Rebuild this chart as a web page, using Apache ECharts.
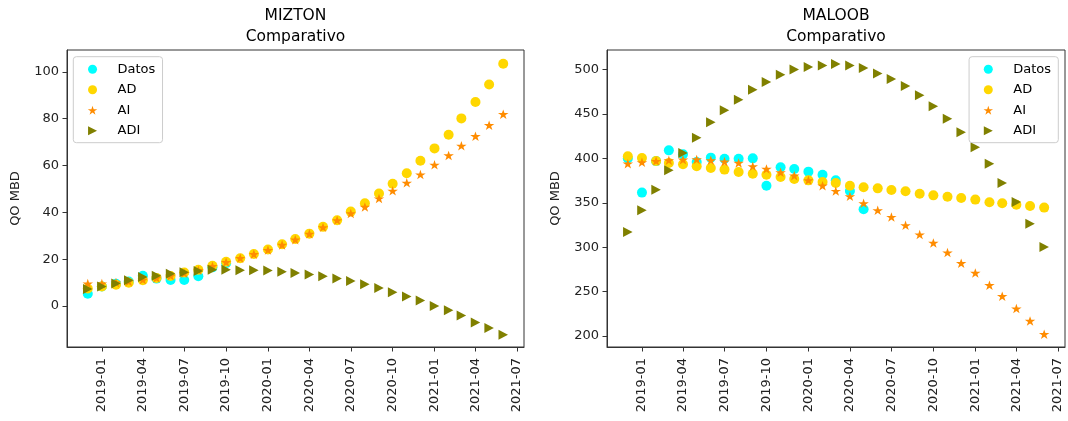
<!DOCTYPE html>
<html><head><meta charset="utf-8">
<script src="https://cdn.jsdelivr.net/npm/echarts@6/dist/echarts.min.js"></script>
<style>html,body{margin:0;padding:0;background:#fff}#c{width:1068px;height:421px}</style>
</head><body><div id="c"></div>
<script>
// ---- data ----
const months = ['2018-12','2019-01','2019-02','2019-03','2019-04','2019-05','2019-06','2019-07','2019-08','2019-09','2019-10','2019-11','2019-12',
  '2020-01','2020-02','2020-03','2020-04','2020-05','2020-06','2020-07','2020-08','2020-09','2020-10','2020-11','2020-12',
  '2021-01','2021-02','2021-03','2021-04','2021-05','2021-06'];

const miztonDatos = [5.2, 8.3, 9.5, 10.5, 12.9, 11.7, 11.1, 11.1, 12.7, 16.5, 18.3];
const miztonAD = [7.5, 8.3, 9.1, 9.9, 11.0, 12.0, 12.8, 14.3, 15.5, 17.2, 18.9, 20.4, 22.2, 24.1, 26.4, 28.6, 30.9, 33.8, 36.6, 40.3, 43.9, 48.0, 52.2, 56.7, 62.0, 67.3, 73.1, 80.1, 87.1, 94.6, 103.4];
const miztonAI = [9.6, 9.6, 10.0, 10.5, 11.2, 12.0, 12.9, 14.0, 15.3, 17.0, 18.7, 20.4, 22.1, 23.9, 26.1, 28.3, 30.8, 33.6, 36.6, 39.5, 42.3, 45.9, 49.2, 52.6, 56.1, 60.3, 64.3, 68.4, 72.5, 77.2, 81.9];
const miztonADI = [7.3, 8.3, 9.6, 11.0, 12.4, 12.9, 13.8, 14.4, 15.0, 15.5, 15.5, 15.3, 15.3, 15.2, 14.6, 14.1, 13.4, 12.7, 11.7, 10.7, 9.3, 7.7, 5.9, 4.1, 2.3, 0.0, -1.8, -4.1, -7.0, -9.4, -12.3];

const maloobDatos = [400.0, 361.5, 397.0, 409.1, 404.6, 396.0, 400.9, 399.6, 399.6, 400.1, 369.3, 390.0, 388.1, 385.1, 381.7, 375.3, 363.3, 342.7];
const maloobAD = [402.4, 400.5, 397.1, 394.9, 393.4, 391.1, 389.2, 387.4, 384.7, 382.8, 381.7, 379.1, 376.8, 375.3, 373.5, 372.3, 369.3, 367.5, 366.3, 364.4, 363.0, 360.3, 358.4, 356.9, 355.4, 353.6, 350.6, 349.4, 347.9, 346.4, 344.6];
const maloobAI = [394.1, 395.6, 397.1, 397.9, 398.6, 398.9, 397.9, 396.4, 394.9, 391.1, 388.1, 384.3, 380.6, 375.3, 369.3, 363.3, 357.3, 349.4, 341.6, 334.0, 324.7, 314.2, 304.8, 293.9, 281.9, 271.0, 257.1, 244.7, 230.8, 216.9, 201.9];
const maloobADI = [317.2, 341.6, 364.8, 386.6, 406.1, 423.4, 440.7, 454.2, 466.2, 477.4, 486.1, 494.3, 500.3, 503.0, 504.8, 506.3, 504.8, 501.8, 495.8, 489.5, 481.6, 471.1, 458.7, 444.8, 429.4, 412.5, 394.1, 372.3, 350.9, 326.5, 300.3];

const xTickLabels = ['2019-01','2019-04','2019-07','2019-10','2020-01','2020-04','2020-07','2020-10','2021-01','2021-04','2021-07'];
const miztonYTicks = [0, 20, 40, 60, 80, 100];
const maloobYTicks = [200, 250, 300, 350, 400, 450, 500];
const titles = ['MIZTON\nComparativo', 'MALOOB\nComparativo'];

// ---- helpers ----
function ts(s) { const p = s.split('-').map(Number); return Date.UTC(p[0], p[1] - 1, 1); }
function pairs(vals) { return vals.map((v, i) => [ts(months[i]), v]); }
const xSpan = ts(months[months.length - 1]) - ts(months[0]);
const xMin = ts(months[0]) - xSpan * 0.05;
const xMax = ts(months[months.length - 1]) + xSpan * 0.05;
const xTickValues = xTickLabels.map(ts);

const STAR = 'path://M50,0L61.22,34.55L97.55,34.55L68.16,55.9L79.39,90.45L50,69.1L20.61,90.45L31.84,55.9L2.45,34.55L38.78,34.55Z';
const TRI = 'path://M0,0L10,5L0,10Z';
const FONT = 'DejaVu Sans';
const colors = { Datos: '#00FFFF', AD: '#FFD700', AI: '#FF8C00', ADI: '#808000' };
const symbols = { Datos: ['circle', 10], AD: ['circle', 10], AI: [STAR, [10.5, 10]], ADI: [TRI, [9.5, 10]] };

function xAxis(gi) {
  return {
    type: 'value', gridIndex: gi, min: xMin, max: xMax,
    splitLine: { show: false },
    axisLine: { show: true, onZero: false, lineStyle: { color: '#333', width: 1 } },
    axisTick: { show: true, length: 4.5, customValues: xTickValues, lineStyle: { color: '#333' } },
    axisLabel: {
      customValues: xTickValues, rotate: 90, margin: 11, fontFamily: FONT, fontSize: 13, color: '#222',
      formatter: function (v) { const i = xTickValues.indexOf(v); return i >= 0 ? xTickLabels[i] : ''; }
    }
  };
}
function yAxis(gi, min, max, ticks) {
  return {
    type: 'value', gridIndex: gi, min: min, max: max,
    name: 'QO MBD', nameLocation: 'middle', nameGap: 45,
    nameTextStyle: { fontFamily: FONT, fontSize: 13, color: '#222' },
    splitLine: { show: false },
    axisLine: { show: true, onZero: false, lineStyle: { color: '#333', width: 1 } },
    axisTick: { show: true, length: 4.5, customValues: ticks, lineStyle: { color: '#333' } },
    axisLabel: { customValues: ticks, margin: 8, fontFamily: FONT, fontSize: 13, color: '#222' }
  };
}
function legend(pos) {
  return Object.assign({
    orient: 'vertical', top: 56.7, itemWidth: 40, itemHeight: 9, itemGap: 5.5,
    padding: [5, 7.2, 4.5, 14.5], backgroundColor: 'rgba(255,255,255,0.8)', borderColor: '#cccccc', borderWidth: 1, borderRadius: 3,
    textStyle: { fontFamily: FONT, fontSize: 13, color: '#000', lineHeight: 15 },
    data: [{ name: 'Datos', icon: 'circle' }, { name: 'AD', icon: 'circle' }, { name: 'AI', icon: STAR }, { name: 'ADI', icon: TRI }],
    selectedMode: false
  }, pos);
}
function scatter(name, vals, gi) {
  return {
    type: 'scatter', name: name, xAxisIndex: gi, yAxisIndex: gi, data: pairs(vals),
    symbol: symbols[name][0], symbolSize: symbols[name][1], symbolKeepAspect: true,
    itemStyle: { color: colors[name], opacity: 1 }, emphasis: { disabled: true }
  };
}

const option = {
  animation: false,
  textStyle: { fontFamily: FONT },
  title: [
    { text: titles[0], left: 295.5, top: 5, padding: 0, textAlign: 'center', textStyle: { fontFamily: FONT, fontSize: 15.5, fontWeight: 'normal', color: '#000', lineHeight: 21 } },
    { text: titles[1], left: 836, top: 5, padding: 0, textAlign: 'center', textStyle: { fontFamily: FONT, fontSize: 15.5, fontWeight: 'normal', color: '#000', lineHeight: 21 } }
  ],
  legend: [legend({ left: 73.3 }), legend({ right: 9.7 })],
  grid: [
    { left: 67, right: 544, top: 50, bottom: 74, show: true, borderColor: '#333', borderWidth: 1, backgroundColor: 'transparent' },
    { left: 607, right: 3, top: 50, bottom: 74, show: true, borderColor: '#333', borderWidth: 1, backgroundColor: 'transparent' }
  ],
  xAxis: [xAxis(0), xAxis(1)],
  yAxis: [yAxis(0, -17.5, 109.3, miztonYTicks), yAxis(1, 187.5, 522.2, maloobYTicks)],
  series: [
    scatter('Datos', miztonDatos, 0), scatter('AD', miztonAD, 0), scatter('AI', miztonAI, 0), scatter('ADI', miztonADI, 0),
    scatter('Datos', maloobDatos, 1), scatter('AD', maloobAD, 1), scatter('AI', maloobAI, 1), scatter('ADI', maloobADI, 1)
  ]
};
const chart = echarts.init(document.getElementById('c'), null, { renderer: 'canvas' });
chart.setOption(option);
</script>
</body></html>
